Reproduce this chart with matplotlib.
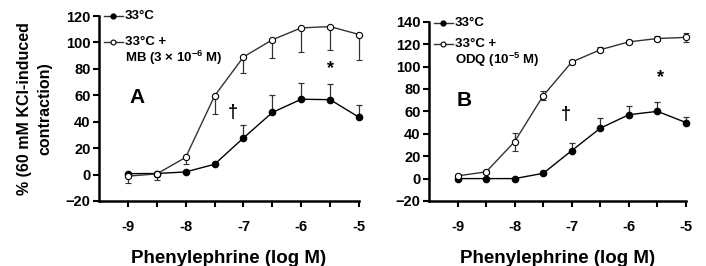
import matplotlib
matplotlib.use("Agg")
import matplotlib.pyplot as plt
import numpy as np

plt.rcParams['font.family'] = ['Liberation Sans', 'DejaVu Sans']
plt.rcParams['font.weight'] = 'bold'
plt.rcParams['mathtext.fontset'] = 'custom'
plt.rcParams['mathtext.rm'] = 'Liberation Sans:bold'
plt.rcParams['mathtext.bf'] = 'Liberation Sans:bold'

log_conc = [-9, -8.5, -8, -7.5, -7, -6.5, -6, -5.5, -5]

# Panel A
a_ctrl = [0.7, 0.8, 2, 7.8, 27.7, 47, 57, 56.7, 43.4]
a_ctrl_err = [0.5, 0.5, 1, 2, 10, 13.5, 12, 11.5, 9.5]
a_mb = [-1.2, 0.5, 13, 59.5, 89, 102, 111, 112, 106]
a_mb_err = [5, 4.5, 5, 14, 12, 14, 18, 18, 19]

# Panel B
b_ctrl = [0, 0, 0, 4.7, 25, 45, 57, 60, 50]
b_ctrl_err = [0.5, 0.5, 0.5, 1.5, 7, 9, 8, 8, 5]
b_odq = [2.4, 6, 33, 74, 104, 115, 122, 125, 126]
b_odq_err = [2, 2, 8, 4, 2, 2, 2, 2, 4]

W, H = 706, 266
fig = plt.figure(figsize=(W/100, H/100), dpi=100)

axA = fig.add_axes([99/W, 1-201/H, 260/W, 185/H])
axB = fig.add_axes([429/W, 1-201/H, 257/W, 179.3/H])

line_col = '#333333'

def draw(ax, ctrl, ctrl_err, trt, trt_err, trt_sym, ylim, yticks,
         letter, letter_xy, dag_xy, star_xy, leg_y, leg_label):
    ax.errorbar(log_conc, ctrl, yerr=[np.zeros(len(ctrl)), ctrl_err],
                fmt='o', ms=4.5, color='black', mfc='black', mec='black',
                ecolor=line_col, elinewidth=0.9, capsize=2, capthick=0.9,
                ls='-', lw=1, clip_on=False, zorder=3)
    if trt_sym:
        terr = [trt_err, trt_err]
    else:
        terr = [trt_err, np.zeros(len(trt))]
    ax.errorbar(log_conc, trt, yerr=terr,
                fmt='o', ms=4.5, color=line_col, mfc='white', mec='black',
                mew=0.8, ecolor=line_col, elinewidth=0.9, capsize=2,
                capthick=0.9, ls='-', lw=1, clip_on=False, zorder=4)
    ax.set_xlim(-9.5, -5)
    ax.set_ylim(*ylim)
    ax.set_yticks(yticks)
    ax.set_xticks(log_conc)
    ax.set_xticklabels(['-9', '', '-8', '', '-7', '', '-6', '', '-5'])
    for s in ['top', 'right']:
        ax.spines[s].set_visible(False)
    for s in ['left', 'bottom']:
        ax.spines[s].set_linewidth(1.8)
    ax.tick_params(axis='both', direction='out', length=4, width=1.5,
                   labelsize=10.5)
    ax.tick_params(axis='x', pad=10)
    ax.tick_params(axis='y', pad=2)
    for lab in ax.get_xticklabels() + ax.get_yticklabels():
        lab.set_fontweight('bold')
    ax.set_xlabel('Phenylephrine (log M)', fontsize=13.5, fontweight='bold',
                  labelpad=11)
    ax.text(*letter_xy, letter, fontsize=15, fontweight='bold',
            ha='center', va='center')
    ax.text(*dag_xy, '\u2020', fontsize=13, fontweight='bold',
            ha='center', va='center')
    ax.text(*star_xy, '*', fontsize=13, fontweight='bold',
            ha='center', va='center')
    # legend
    ax.plot([-9.42, -9.08], [leg_y[0], leg_y[0]], color=line_col, lw=1,
            clip_on=False)
    ax.plot([-9.25], [leg_y[0]], 'o', ms=3.5, color='black', clip_on=False)
    ax.plot([-9.42, -9.08], [leg_y[1], leg_y[1]], color=line_col, lw=1,
            clip_on=False)
    ax.plot([-9.25], [leg_y[1]], 'o', ms=3.5, mfc='white', mec='black',
            mew=0.8, clip_on=False)
    ax.text(-9.05, leg_y[0], '33\u00b0C', fontsize=9.5, fontweight='bold',
            va='center', ha='left')
    ax.text(-9.05, leg_y[1], '33\u00b0C +', fontsize=9.5, fontweight='bold',
            va='center', ha='left')
    ax.text(-9.05, leg_y[2], leg_label, fontsize=9.5, fontweight='bold',
            va='center', ha='left')

draw(axA, a_ctrl, a_ctrl_err, a_mb, a_mb_err, False, (-20, 120),
     [-20, 0, 20, 40, 60, 80, 100, 120],
     'A', (-8.85, 58), (-7.19, 47), (-5.49, 80),
     (120, 100, 88), r'MB (3 $\times$ 10$^{-6}$ M)')
draw(axB, b_ctrl, b_ctrl_err, b_odq, b_odq_err, True, (-20, 140),
     [-20, 0, 20, 40, 60, 80, 100, 120, 140],
     'B', (-8.88, 70), (-7.1, 57), (-5.44, 90),
     (139, 120, 106), r'ODQ (10$^{-5}$ M)')

axA.set_ylabel('% (60 mM KCl-induced\ncontraction)', fontsize=11.5,
               fontweight='bold', labelpad=10, linespacing=1.4)

fig.savefig('out.png', dpi=100)
